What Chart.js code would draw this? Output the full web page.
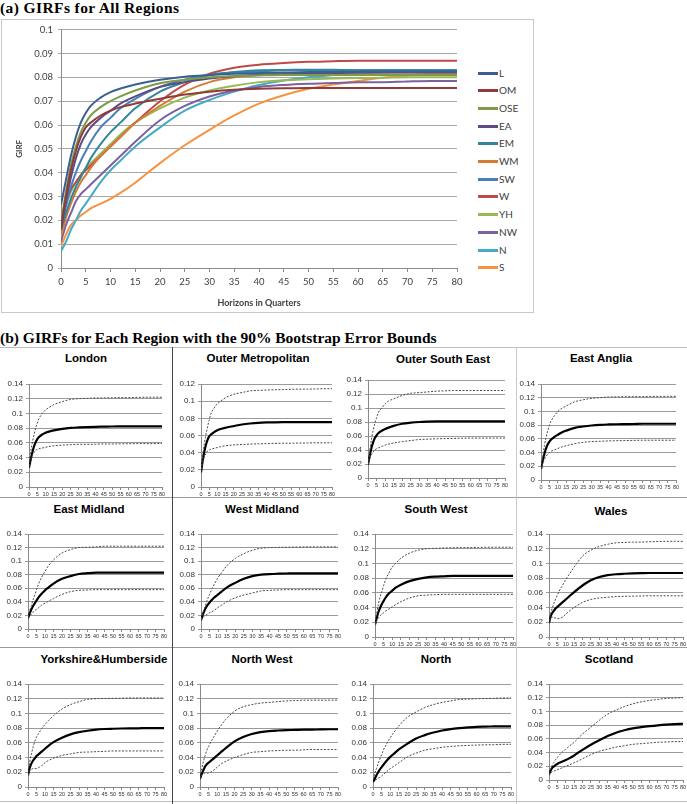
<!DOCTYPE html>
<html><head><meta charset="utf-8">
<script src="https://cdn.jsdelivr.net/npm/chart.js@4"></script>
<style>
body{margin:0;width:687px;height:804px;position:relative;background:#fff;overflow:hidden;}
.abs{position:absolute;}
.stitle{position:absolute;font-family:"Liberation Serif",serif;font-weight:bold;font-size:15.5px;line-height:1;color:#000;white-space:nowrap;}
.ptitle{position:absolute;font-family:"Liberation Sans",Arial,sans-serif;font-weight:bold;font-size:11.5px;line-height:1;color:#000;white-space:nowrap;transform:translate(-50%,-50%);}
.leg{position:absolute;font-family:Lato,sans-serif;font-size:10px;color:#404040;line-height:1;}
.hl{position:absolute;height:1px;}
.vl{position:absolute;width:1px;}
</style></head><body>
<div class="stitle" style="left:0;top:0;letter-spacing:0.4px;">(a) GIRFs for All Regions</div>
<div class="abs" style="left:1px;top:19px;width:531px;height:292px;border:1px solid #c8c8c8;"></div>
<div class="stitle" style="left:0;top:330px;">(b) GIRFs for Each Region with the 90% Bootstrap Error Bounds</div>
<script>
// ---------- DATA ----------
const horizons = [0,1,2,3,4,5,6,8,10,12,15,20,25,30,35,40,45,50,55,60,65,70,75,80];
const regionCodes = ['L','OM','OSE','EA','EM','WM','SW','W','YH','NW','N','S'];
const regionNames = ['London','Outer Metropolitan','Outer South East','East Anglia','East Midland','West Midland','South West','Wales','Yorkshire&Humberside','North West','North','Scotland'];
const yTicksMain = [0,0.01,0.02,0.03,0.04,0.05,0.06,0.07,0.08,0.09,0.1];
const xTickLabels = [0,5,10,15,20,25,30,35,40,45,50,55,60,65,70,75,80];

const girfL   = [0.0265,0.037,0.047,0.055,0.061,0.065,0.068,0.0715,0.0738,0.0753,0.077,0.079,0.0803,0.081,0.0815,0.0818,0.082,0.0822,0.0823,0.0824,0.0825,0.0825,0.0825,0.0825];
const girfOM  = [0.017,0.030,0.041,0.049,0.055,0.059,0.061,0.064,0.066,0.0675,0.069,0.071,0.0728,0.074,0.0748,0.0752,0.0754,0.0755,0.0755,0.0755,0.0755,0.0755,0.0755,0.0755];
const girfOSE = [0.019,0.032,0.043,0.051,0.057,0.061,0.064,0.0675,0.070,0.072,0.0745,0.0775,0.079,0.080,0.0805,0.0808,0.081,0.081,0.081,0.081,0.081,0.081,0.081,0.081];
const girfEA  = [0.016,0.028,0.038,0.046,0.052,0.056,0.059,0.063,0.066,0.069,0.072,0.076,0.078,0.0795,0.0805,0.081,0.0813,0.0815,0.0817,0.082,0.082,0.082,0.082,0.082];
const girfEM  = [0.016,0.023,0.029,0.034,0.038,0.042,0.046,0.052,0.057,0.061,0.067,0.074,0.078,0.081,0.0822,0.083,0.0831,0.0832,0.0832,0.083,0.083,0.083,0.083,0.083];
const girfWM  = [0.013,0.021,0.027,0.032,0.036,0.039,0.042,0.047,0.051,0.055,0.061,0.068,0.074,0.078,0.080,0.081,0.0815,0.0818,0.082,0.082,0.082,0.082,0.082,0.082];
const girfSW  = [0.017,0.026,0.034,0.040,0.045,0.049,0.053,0.059,0.063,0.067,0.071,0.076,0.079,0.081,0.082,0.0825,0.083,0.083,0.083,0.083,0.083,0.083,0.083,0.083];
const girfW   = [0.019,0.028,0.033,0.036,0.039,0.041,0.043,0.047,0.051,0.055,0.061,0.070,0.077,0.0815,0.084,0.0853,0.086,0.0865,0.0868,0.087,0.087,0.087,0.087,0.087];
const girfYH  = [0.016,0.026,0.032,0.036,0.039,0.042,0.044,0.048,0.052,0.056,0.061,0.067,0.0715,0.0745,0.0765,0.078,0.0788,0.0792,0.0795,0.0797,0.0798,0.080,0.080,0.080];
const girfNW  = [0.011,0.018,0.023,0.028,0.031,0.033,0.035,0.039,0.043,0.047,0.053,0.062,0.068,0.072,0.0745,0.076,0.0768,0.0773,0.0776,0.0779,0.078,0.0783,0.0785,0.0785];
const girfN   = [0.007,0.011,0.016,0.020,0.024,0.027,0.030,0.036,0.041,0.045,0.051,0.059,0.066,0.0705,0.074,0.0768,0.0787,0.080,0.081,0.0818,0.0821,0.0823,0.0825,0.0825];
const girfS   = [0.009,0.014,0.018,0.020,0.022,0.0235,0.025,0.027,0.029,0.0315,0.0358,0.044,0.0515,0.058,0.064,0.069,0.0725,0.0752,0.077,0.0785,0.0798,0.0808,0.0815,0.082];

const upL   = [0.035,0.048,0.060,0.071,0.080,0.087,0.093,0.100,0.105,0.108,0.112,0.116,0.119,0.120,0.1205,0.121,0.121,0.1213,0.1215,0.1215,0.1218,0.122,0.122,0.122];
const loL   = [0.028,0.037,0.043,0.047,0.050,0.051,0.052,0.053,0.054,0.055,0.056,0.057,0.0575,0.058,0.058,0.0582,0.0585,0.0585,0.0587,0.0588,0.059,0.059,0.059,0.059];
const upOM  = [0.020,0.036,0.050,0.061,0.070,0.078,0.085,0.092,0.097,0.100,0.104,0.108,0.110,0.112,0.1125,0.113,0.1133,0.1135,0.1138,0.114,0.114,0.1142,0.1145,0.1145];
const loOM  = [0.017,0.028,0.035,0.039,0.042,0.043,0.044,0.045,0.046,0.047,0.048,0.049,0.0495,0.050,0.0503,0.0505,0.0508,0.051,0.051,0.0512,0.0513,0.0515,0.0515,0.0515];
const upOSE = [0.020,0.038,0.055,0.068,0.078,0.086,0.093,0.100,0.106,0.110,0.113,0.118,0.121,0.122,0.123,0.124,0.1245,0.125,0.125,0.125,0.125,0.125,0.125,0.125];
const loOSE = [0.018,0.027,0.033,0.037,0.040,0.042,0.043,0.045,0.047,0.0485,0.050,0.052,0.0535,0.055,0.0555,0.056,0.0563,0.0565,0.0568,0.057,0.057,0.057,0.057,0.057];
const upEA  = [0.018,0.034,0.050,0.062,0.072,0.080,0.086,0.094,0.100,0.104,0.108,0.114,0.117,0.119,0.120,0.121,0.1212,0.1215,0.1215,0.1215,0.1218,0.122,0.122,0.122];
const loEA  = [0.016,0.024,0.030,0.034,0.038,0.040,0.042,0.044,0.046,0.048,0.050,0.053,0.055,0.056,0.0565,0.057,0.0573,0.0575,0.0578,0.058,0.058,0.058,0.058,0.058];
const upEM  = [0.018,0.027,0.035,0.043,0.050,0.058,0.065,0.076,0.085,0.093,0.102,0.112,0.117,0.120,0.1205,0.121,0.122,0.122,0.122,0.122,0.122,0.122,0.122,0.122];
const loEM  = [0.016,0.019,0.022,0.025,0.027,0.029,0.031,0.035,0.038,0.041,0.045,0.051,0.055,0.057,0.0575,0.058,0.058,0.058,0.058,0.058,0.058,0.058,0.058,0.058];
const upWM  = [0.015,0.023,0.030,0.038,0.045,0.051,0.057,0.067,0.076,0.083,0.093,0.104,0.111,0.116,0.119,0.120,0.1203,0.1205,0.1207,0.121,0.121,0.121,0.121,0.121];
const loWM  = [0.013,0.017,0.019,0.021,0.022,0.024,0.025,0.028,0.032,0.035,0.040,0.046,0.050,0.053,0.056,0.057,0.0575,0.058,0.058,0.058,0.058,0.058,0.058,0.058];
const upSW  = [0.018,0.033,0.045,0.055,0.062,0.070,0.077,0.087,0.095,0.100,0.107,0.114,0.118,0.120,0.1205,0.121,0.1213,0.1215,0.1215,0.1217,0.122,0.122,0.122,0.122];
const loSW  = [0.016,0.022,0.026,0.029,0.031,0.033,0.035,0.038,0.041,0.044,0.048,0.053,0.056,0.057,0.0575,0.058,0.058,0.058,0.058,0.058,0.058,0.058,0.058,0.058];
const upW   = [0.022,0.032,0.040,0.046,0.052,0.057,0.062,0.070,0.078,0.085,0.095,0.110,0.118,0.123,0.126,0.128,0.1285,0.129,0.129,0.1295,0.1298,0.130,0.130,0.130];
const loW   = [0.018,0.027,0.027,0.026,0.026,0.025,0.025,0.027,0.031,0.035,0.040,0.047,0.051,0.053,0.054,0.055,0.0553,0.0555,0.0557,0.056,0.056,0.056,0.056,0.056];
const upYH  = [0.020,0.034,0.045,0.054,0.062,0.068,0.072,0.079,0.085,0.090,0.097,0.106,0.112,0.116,0.119,0.120,0.1203,0.1205,0.1207,0.121,0.121,0.121,0.121,0.121];
const loYH  = [0.016,0.022,0.024,0.025,0.025,0.025,0.026,0.029,0.033,0.036,0.039,0.043,0.045,0.047,0.0475,0.048,0.0485,0.049,0.049,0.049,0.049,0.049,0.049,0.049];
const upNW  = [0.013,0.025,0.035,0.043,0.050,0.055,0.060,0.068,0.076,0.083,0.092,0.103,0.109,0.112,0.114,0.115,0.116,0.117,0.1175,0.118,0.118,0.118,0.118,0.118];
const loNW  = [0.010,0.016,0.018,0.019,0.019,0.019,0.020,0.023,0.027,0.031,0.035,0.040,0.044,0.047,0.048,0.049,0.0495,0.050,0.050,0.0505,0.051,0.051,0.051,0.051];
const upN   = [0.010,0.018,0.025,0.032,0.038,0.044,0.050,0.059,0.067,0.074,0.083,0.095,0.102,0.108,0.112,0.115,0.117,0.119,0.1195,0.120,0.1203,0.1205,0.121,0.121];
const loN   = [0.006,0.008,0.010,0.012,0.013,0.015,0.017,0.021,0.025,0.028,0.033,0.041,0.046,0.050,0.052,0.054,0.055,0.056,0.0565,0.057,0.0573,0.0575,0.058,0.058];
const upS   = [0.010,0.016,0.022,0.026,0.030,0.033,0.036,0.041,0.045,0.049,0.055,0.067,0.077,0.087,0.096,0.102,0.107,0.111,0.114,0.116,0.1175,0.119,0.1195,0.120];
const loS   = [0.006,0.010,0.012,0.013,0.014,0.015,0.016,0.018,0.020,0.022,0.025,0.031,0.037,0.042,0.045,0.048,0.050,0.052,0.053,0.054,0.055,0.0555,0.056,0.056];

const panelYMax = [0.14,0.12,0.14,0.14,0.14,0.14,0.14,0.14,0.14,0.14,0.14,0.14];

// ---------- STYLE / LAYOUT ----------
const seriesColors = ['#3A6090','#8E3B39','#7E9C47','#5F4B83','#31869D','#D47B35','#4A7EBB','#BE4B48','#98B954','#7D60A0','#46AAC5','#F69240'];
const girfs = [girfL,girfOM,girfOSE,girfEA,girfEM,girfWM,girfSW,girfW,girfYH,girfNW,girfN,girfS];
const uppers = [upL,upOM,upOSE,upEA,upEM,upWM,upSW,upW,upYH,upNW,upN,upS];
const lowers = [loL,loOM,loOSE,loEA,loEM,loWM,loSW,loW,loYH,loNW,loN,loS];

// plot rects [left, top, right, bottom]
const panelRects = [
 [29,384,162,487],[201,384,332,487],[368,380,505,478],[541,384,676,480],
 [28,534,164,629],[201,534,338,629],[375,534,513,637],[549,534,683,637],
 [28,684,164,787],[200,684,338,787],[373,684,511,787],[549,684,683,780]];
const titlePos = [[86,359],[258,359],[443,360],[601,359],[89,510],[262,510],[436,510],[611,512],[104,660],[262,660],[436,660],[609,660]];

Chart.defaults.font.family = '"Liberation Sans", Arial, sans-serif';
Chart.defaults.color = '#333';

const toXY = arr => arr.map((v,i) => ({x: horizons[i], y: v}));
const fmt = v => String(+(+v).toFixed(3));

function addCanvas(left, top, w, h){
  const d = document.createElement('div');
  d.className = 'abs';
  d.style.left = left+'px'; d.style.top = top+'px';
  d.style.width = w+'px'; d.style.height = h+'px';
  const c = document.createElement('canvas');
  c.width = w; c.height = h;
  c.style.width = w+'px'; c.style.height = h+'px';
  d.appendChild(c);
  document.body.appendChild(d);
  return c;
}

// ----- Main chart -----
(function(){
  const L=61,T=29,R=457,B=268;
  const cl=0, ct=19, cw=470, ch=293;
  const yw = L-cl, xh = ct+ch-B, padT = T-ct, padR = cl+cw-R;
  const c = addCanvas(cl,ct,cw,ch);
  new Chart(c, {
    type:'line',
    data:{datasets: regionCodes.map((code,i)=>({
      label: code, data: toXY(girfs[i]), borderColor: seriesColors[i],
      borderWidth: 2, pointRadius: 0, fill:false, cubicInterpolationMode:'monotone'
    }))},
    options:{
      responsive:false, animation:false, events:[],
      layout:{padding:{top:padT,right:padR,left:0,bottom:0}},
      plugins:{legend:{display:false}, tooltip:{enabled:false}},
      scales:{
        x:{type:'linear', min:0, max:80,
           afterBuildTicks: s => { s.ticks = xTickLabels.map(v=>({value:v})); },
           ticks:{autoSkip:false, maxRotation:0, font:{family:'Lato', size:9.5}, color:'#404040', padding:4, callback: fmt},
           grid:{drawOnChartArea:false, tickLength:4, color:'#8c8c8c'},
           border:{color:'#8c8c8c'},
           title:{display:true, text:'Horizons in Quarters', font:{family:'Lato', size:9, weight:'bold'}, color:'#404040', padding:{top:0,bottom:4}},
           afterFit: s => { s.height = xh; }},
        y:{min:0, max:0.1,
           afterBuildTicks: s => { s.ticks = yTicksMain.map(v=>({value:v})); },
           ticks:{font:{family:'Lato', size:9.5}, color:'#404040', padding:5, callback: fmt},
           grid:{color:'#a8a8a8', tickLength:3},
           border:{color:'#8c8c8c'},
           title:{display:true, text:'GIRF', font:{family:'Lato', size:8, weight:'bold'}, color:'#404040', padding:{top:15,bottom:0}},
           afterFit: s => { s.width = yw; }}
      }
    }
  });
  // legend
  regionCodes.forEach((code,i)=>{
    const y = 73 + i*17.7;
    const ln = document.createElement('div');
    ln.className='abs';
    ln.style.cssText = `left:478px;top:${(y-1.5).toFixed(1)}px;width:20px;height:3px;background:${seriesColors[i]};`;
    document.body.appendChild(ln);
    const t = document.createElement('div');
    t.className='leg';
    t.style.left='499px'; t.style.top=(y-5.5).toFixed(1)+'px';
    t.textContent = code;
    document.body.appendChild(t);
  });
})();

// ----- Panel separators -----
function hline(x1,x2,y,col){const e=document.createElement('div');e.className='hl';e.style.cssText=`left:${x1}px;top:${y}px;width:${x2-x1}px;background:${col};`;document.body.appendChild(e);}
function vline(x,y1,y2,col){const e=document.createElement('div');e.className='vl';e.style.cssText=`left:${x}px;top:${y1}px;height:${y2-y1}px;background:${col};`;document.body.appendChild(e);}
hline(0,687,347,'#bdbdbd');
hline(0,687,497,'#9a9a9a');
hline(0,687,647,'#9a9a9a');
hline(0,687,801,'#bdbdbd');
vline(172,347,804,'#444');
vline(516,347,804,'#c8c8c8');

// ----- Panels -----
regionNames.forEach((name,i)=>{
  const [L,T,R,B] = panelRects[i];
  const yw=28, xh=16, padT=8, padR=6;
  const c = addCanvas(L-yw, T-padT, R-L+yw+padR, B-T+padT+xh);
  const ymax = panelYMax[i];
  new Chart(c, {
    type:'line',
    data:{datasets:[
      {label:'upper', data: toXY(uppers[i]), borderColor:'#4a4a4a', borderWidth:1, borderDash:[2,1.5], pointRadius:0, cubicInterpolationMode:'monotone'},
      {label:'lower', data: toXY(lowers[i]), borderColor:'#4a4a4a', borderWidth:1, borderDash:[2,1.5], pointRadius:0, cubicInterpolationMode:'monotone'},
      {label: name, data: toXY(girfs[i]), borderColor:'#000', borderWidth:2.2, pointRadius:0, cubicInterpolationMode:'monotone'}
    ]},
    options:{
      responsive:false, animation:false, events:[],
      layout:{padding:{top:padT,right:padR,left:0,bottom:0}},
      plugins:{legend:{display:false}, tooltip:{enabled:false}},
      scales:{
        x:{type:'linear', min:0, max:80,
           afterBuildTicks: s => { s.ticks = xTickLabels.map(v=>({value:v})); },
           ticks:{autoSkip:false, maxRotation:0, minRotation:0, font:{size:5.5}, color:'#333', padding:1, callback: fmt},
           grid:{drawOnChartArea:false, tickLength:3, color:'#888'},
           border:{color:'#888'},
           afterFit: s => { s.height = xh; }},
        y:{min:0, max:ymax,
           afterBuildTicks: s => { const t=[]; for(let k=0;k<=Math.round(ymax/0.02);k++) t.push({value:+(k*0.02).toFixed(2)}); s.ticks=t; },
           ticks:{font:{size:8}, color:'#333', padding:3, callback: fmt},
           grid:{color:'#9a9a9a', tickLength:3},
           border:{color:'#888'},
           afterFit: s => { s.width = yw; }}
      }
    }
  });
  const t = document.createElement('div');
  t.className='ptitle';
  t.style.left = titlePos[i][0]+'px'; t.style.top = titlePos[i][1]+'px';
  t.textContent = name;
  document.body.appendChild(t);
});
</script>
</body></html>
